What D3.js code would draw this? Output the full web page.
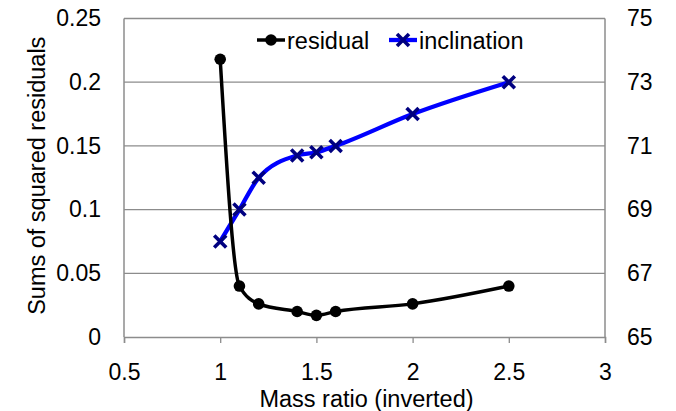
<!DOCTYPE html>
<html>
<head>
<meta charset="utf-8">
<script src="https://cdn.jsdelivr.net/npm/d3@7"></script>
<style>
  body { margin: 0; background: #fff; }
  text { font-family: "Liberation Sans", Arial, sans-serif; fill: #000; }
</style>
</head>
<body>
<div id="chart"></div>
<script>
const massRatio   = [1, 1.1, 1.2, 1.4, 1.5, 1.6, 2, 2.5];
const residual    = [0.218, 0.04, 0.026, 0.02, 0.017, 0.02, 0.026, 0.04];
const inclination = [68, 69, 70, 70.7, 70.8, 71, 72, 73];
const xTicks      = [0.5, 1, 1.5, 2, 2.5, 3];
const yLeftTicks  = [0, 0.05, 0.1, 0.15, 0.2, 0.25];
const yRightTicks = [65, 67, 69, 71, 73, 75];

const W = 676, H = 411;
const M = { top: 18.5, right: 71, bottom: 74, left: 124 };
const iW = W - M.left - M.right;
const iH = H - M.top - M.bottom;

const svg = d3.select("#chart").append("svg")
  .attr("width", W).attr("height", H)
  .attr("viewBox", `0 0 ${W} ${H}`);

const g = svg.append("g").attr("transform", `translate(${M.left},${M.top})`);

const x  = d3.scaleLinear().domain([0.5, 3]).range([0, iW]);
const yL = d3.scaleLinear().domain([0, 0.25]).range([iH, 0]);
const yR = d3.scaleLinear().domain([65, 75]).range([iH, 0]);

// gridlines
g.append("g").selectAll("line")
  .data(yLeftTicks.slice(1))
  .join("line")
  .attr("x1", 0).attr("x2", iW)
  .attr("y1", d => yL(d)).attr("y2", d => yL(d))
  .attr("stroke", "#8c8c8c").attr("stroke-width", 1.3);

// plot frame: left, right, bottom
g.append("line").attr("x1", 0).attr("x2", 0).attr("y1", 0).attr("y2", iH)
  .attr("stroke", "#8c8c8c").attr("stroke-width", 1.5);
g.append("line").attr("x1", iW).attr("x2", iW).attr("y1", 0).attr("y2", iH)
  .attr("stroke", "#8c8c8c").attr("stroke-width", 1.5);

const xAxis = g.append("g").attr("transform", `translate(0,${iH})`)
  .call(d3.axisBottom(x).tickValues(xTicks).tickSize(6).tickPadding(21)
    .tickFormat(d3.format("")));
xAxis.select(".domain").attr("stroke", "#8c8c8c").attr("stroke-width", 1.5);
xAxis.selectAll(".tick line").attr("stroke", "#8c8c8c").attr("stroke-width", 1.3);
xAxis.selectAll("text").attr("font-size", 23).style("font-family", "Liberation Sans, Arial, sans-serif");

const yAxisL = g.append("g")
  .call(d3.axisLeft(yL).tickValues(yLeftTicks).tickSize(0).tickPadding(23)
    .tickFormat(d3.format("")));
yAxisL.select(".domain").remove();
yAxisL.selectAll("text").attr("font-size", 23).style("font-family", "Liberation Sans, Arial, sans-serif");

const yAxisR = g.append("g").attr("transform", `translate(${iW},0)`)
  .call(d3.axisRight(yR).tickValues(yRightTicks).tickSize(0).tickPadding(22));
yAxisR.select(".domain").remove();
yAxisR.selectAll("text").attr("font-size", 23).style("font-family", "Liberation Sans, Arial, sans-serif");

// axis titles
g.append("text")
  .attr("x", iW / 2 + 2).attr("y", iH + 70)
  .attr("text-anchor", "middle").attr("font-size", 23.5)
  .text("Mass ratio (inverted)");

g.append("text")
  .attr("transform", "rotate(-90)")
  .attr("x", -(iH / 2) + 2).attr("y", -79)
  .attr("text-anchor", "middle").attr("font-size", 23.5)
  .text("Sums of squared residuals");

// series
const resData = massRatio.map((m, i) => ({ x: m, y: residual[i] }));
const incData = massRatio.map((m, i) => ({ x: m, y: inclination[i] }));

const xMark = s => `M${-s},${-s}L${s},${s}M${-s},${s}L${s},${-s}`;

g.append("path").datum(incData)
  .attr("fill", "none").attr("stroke", "#0000ff").attr("stroke-width", 4.3)
  .attr("d", d3.line().x(d => x(d.x)).y(d => yR(d.y)).curve(d3.curveMonotoneX));

g.append("path").datum(resData)
  .attr("fill", "none").attr("stroke", "#000").attr("stroke-width", 3.5)
  .attr("d", d3.line().x(d => x(d.x)).y(d => yL(d.y)).curve(d3.curveMonotoneX));

g.append("g").selectAll("path")
  .data(incData)
  .join("path")
  .attr("transform", d => `translate(${x(d.x)},${yR(d.y)})`)
  .attr("d", xMark(6))
  .attr("fill", "none").attr("stroke", "#000080").attr("stroke-width", 3.6);

g.append("g").selectAll("circle")
  .data(resData)
  .join("circle")
  .attr("cx", d => x(d.x)).attr("cy", d => yL(d.y))
  .attr("r", 5.8).attr("fill", "#000");

// legend
const legend = g.append("g").attr("transform", `translate(0,${40 - M.top})`);
const items = [
  { label: "residual", color: "#000", x0: 257 - M.left, type: "circle" },
  { label: "inclination", color: "#0000ff", x0: 389 - M.left, type: "x" }
];
items.forEach(it => {
  const row = legend.append("g").attr("transform", `translate(${it.x0},0)`);
  row.append("line").attr("x1", 0).attr("x2", 28)
    .attr("stroke", it.color).attr("stroke-width", it.type === "x" ? 4.3 : 3.5);
  if (it.type === "circle") {
    row.append("circle").attr("cx", 14).attr("r", 5.8).attr("fill", "#000");
  } else {
    row.append("path").attr("transform", "translate(14,0)").attr("d", xMark(6))
      .attr("fill", "none").attr("stroke", "#000080").attr("stroke-width", 3.6);
  }
  row.append("text").attr("x", 30).attr("y", 8.5)
    .attr("font-size", 23.5).text(it.label);
});
</script>
</body>
</html>
